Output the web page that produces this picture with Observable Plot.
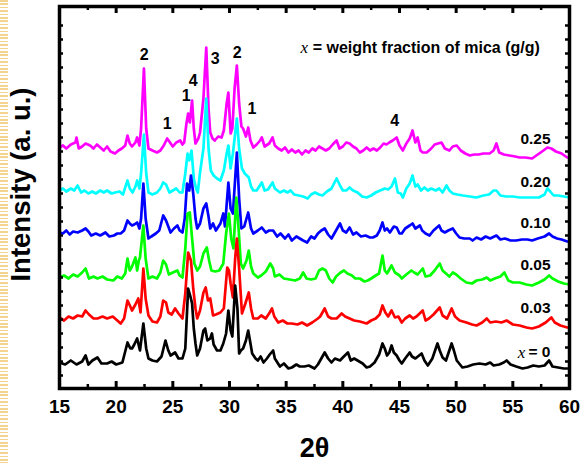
<!DOCTYPE html>
<html>
<head>
<meta charset="utf-8">
<script src="https://cdn.jsdelivr.net/npm/d3@7"></script>
<script src="https://cdn.jsdelivr.net/npm/@observablehq/plot@0.6"></script>
<style>
  html, body { margin: 0; padding: 0; background: #fff; }
  #wrap { position: relative; width: 582px; height: 463px; overflow: hidden; }
  #deco { position: absolute; left: 0; top: 0; width: 8px; height: 463px;
    background: repeating-linear-gradient(to bottom, #f3d48e 0px, #f3d48e 1.6px, transparent 1.6px, transparent 3.4px); }
  #chart { position: absolute; left: 0; top: 0; }
</style>
</head>
<body>
<div id="wrap"><div id="deco"></div><div id="chart"></div></div>
<script>
// ---- data: [2θ, intensity (a.u., vertically offset as in the figure)] ----
const mica000 = [[15.0,26],[15.5,24],[16.0,28],[16.5,24],[17.0,27],[17.3,33],[17.55,24],[17.9,28],[18.35,31],[18.7,25],[19.2,25],[19.6,27],[20.0,24],[20.55,26],[21.0,46],[21.25,40],[21.4,40],[21.6,44],[21.85,50],[22.1,38],[22.4,65],[22.65,40],[22.85,30],[23.2,28],[23.6,27],[24.0,32],[24.35,48],[24.6,38],[24.8,33],[25.2,36],[25.5,30],[25.85,30],[26.1,40],[26.35,100],[26.55,92],[26.7,85],[26.85,60],[27.0,45],[27.15,33],[27.4,40],[27.7,58],[27.85,60],[28.05,48],[28.3,50],[28.45,55],[28.6,44],[28.9,38],[29.2,38],[29.45,45],[29.7,55],[29.9,78],[30.1,58],[30.25,52],[30.5,103],[30.7,80],[30.85,35],[31.0,38],[31.2,40],[31.45,48],[31.65,58],[31.85,45],[32.0,35],[32.3,30],[32.5,28],[32.75,32],[33.0,26],[33.3,30],[33.55,34],[33.85,38],[34.0,30],[34.45,22],[34.8,25],[35.2,20],[35.5,21],[35.9,24],[36.2,22],[36.6,22],[37.0,23],[37.5,20],[37.8,24],[38.0,28],[38.4,36],[38.7,30],[39.0,26],[39.3,30],[39.75,28],[40.0,31],[40.45,36],[40.7,28],[41.0,30],[41.3,28],[41.75,25],[42.1,21],[42.4,22],[42.8,26],[43.2,34],[43.5,45],[43.7,40],[43.9,33],[44.1,36],[44.3,43],[44.5,36],[44.75,33],[45.0,28],[45.2,25],[45.5,30],[45.9,36],[46.1,32],[46.4,30],[46.95,35],[47.2,28],[47.5,23],[47.9,30],[48.35,45],[48.55,38],[48.8,31],[49.1,28],[49.6,45],[49.8,38],[50.05,28],[50.55,21],[51.0,22],[51.5,24],[52.05,25],[52.6,24],[53.0,26],[53.3,23],[53.8,24],[54.2,26],[54.45,28],[54.8,24],[55.3,22],[55.85,20],[56.3,21],[56.8,23],[57.3,22],[57.8,23],[58.2,28],[58.5,22],[59.0,21],[59.5,20],[60.0,20]];
const mica003 = [[15.0,71],[15.4,68],[15.8,72],[16.2,70],[16.6,73],[17.0,72],[17.3,78],[17.6,74],[18.0,70],[18.35,70],[18.8,72],[19.2,70],[19.7,72],[20.1,68],[20.4,65],[20.7,70],[21.0,88],[21.25,82],[21.4,78],[21.7,84],[21.95,90],[22.15,76],[22.4,120],[22.6,90],[22.85,73],[23.2,67],[23.6,66],[23.9,72],[24.15,88],[24.4,86],[24.6,76],[24.9,74],[25.2,80],[25.5,75],[25.85,70],[26.1,95],[26.35,136],[26.6,128],[26.8,100],[27.0,80],[27.15,70],[27.4,78],[27.7,96],[27.9,101],[28.1,88],[28.3,90],[28.55,73],[28.8,74],[29.2,76],[29.5,80],[29.8,121],[29.95,118],[30.1,105],[30.3,91],[30.5,130],[30.65,150],[30.85,120],[31.1,75],[31.4,85],[31.7,96],[31.9,80],[32.1,70],[32.5,70],[32.8,73],[33.2,70],[33.55,76],[33.75,80],[33.95,72],[34.3,66],[34.7,68],[35.1,65],[35.5,65],[36.0,64],[36.4,66],[36.85,63],[37.3,66],[37.8,70],[38.0,72],[38.4,80],[38.7,72],[39.0,70],[39.45,70],[39.9,75],[40.2,72],[40.6,70],[41.0,68],[41.5,67],[42.1,65],[42.5,68],[42.9,70],[43.25,74],[43.5,83],[43.75,76],[44.0,72],[44.3,78],[44.6,71],[44.9,72],[45.2,66],[45.5,70],[45.9,73],[46.2,70],[46.5,72],[47.05,78],[47.3,68],[47.6,70],[48.0,74],[48.55,81],[48.8,73],[49.2,70],[49.6,80],[49.9,72],[50.3,68],[50.9,66],[51.4,64],[51.8,63],[52.3,66],[52.7,70],[53.0,66],[53.5,67],[54.0,66],[54.45,68],[55.0,64],[55.6,63],[56.2,61],[56.7,60],[57.3,62],[57.9,66],[58.4,71],[58.7,66],[59.2,63],[59.8,61],[60.0,61]];
const mica005 = [[15.0,111],[15.4,113],[15.8,110],[16.2,114],[16.6,112],[17.0,116],[17.3,120],[17.6,110],[18.0,112],[18.35,110],[18.8,112],[19.2,109],[19.75,108],[20.1,112],[20.5,110],[20.8,115],[21.0,130],[21.2,118],[21.4,122],[21.7,131],[21.85,118],[22.0,128],[22.1,131],[22.4,163],[22.6,130],[22.85,110],[23.2,112],[23.6,110],[23.9,116],[24.15,128],[24.4,124],[24.65,114],[25.0,116],[25.4,118],[25.6,113],[25.85,111],[26.1,140],[26.3,175],[26.5,176],[26.7,150],[26.9,125],[27.15,118],[27.4,122],[27.7,135],[28.0,141],[28.2,128],[28.4,118],[28.75,117],[29.1,118],[29.45,125],[29.7,155],[29.95,175],[30.15,150],[30.35,140],[30.6,191],[30.8,160],[31.0,125],[31.2,120],[31.5,128],[31.7,138],[31.9,122],[32.1,115],[32.5,111],[32.8,113],[33.2,117],[33.6,125],[33.85,120],[34.0,112],[34.4,114],[34.8,110],[35.3,109],[35.8,108],[36.2,110],[36.5,116],[36.8,110],[37.2,109],[37.6,110],[37.9,118],[38.2,120],[38.5,118],[38.8,110],[39.1,106],[39.4,112],[39.8,116],[40.1,118],[40.4,115],[40.8,113],[41.1,110],[41.5,110],[41.9,107],[42.2,108],[42.5,110],[42.9,113],[43.2,115],[43.5,133],[43.7,118],[43.9,115],[44.3,123],[44.6,116],[45.0,113],[45.2,110],[45.6,114],[46.05,118],[46.3,116],[46.6,114],[47.05,120],[47.3,112],[47.7,113],[48.1,118],[48.55,125],[48.8,118],[49.1,115],[49.4,112],[49.7,116],[50.0,114],[50.4,110],[50.9,106],[51.4,105],[51.8,108],[52.3,109],[52.7,111],[53.0,108],[53.4,110],[53.9,112],[54.25,116],[54.6,108],[55.0,106],[55.6,106],[56.2,104],[56.7,103],[57.3,106],[57.8,109],[58.2,113],[58.5,110],[59.0,107],[59.5,105],[60.0,104]];
const mica010 = [[15.0,156],[15.3,155],[15.6,158],[15.9,154],[16.2,157],[16.6,156],[17.0,158],[17.3,160],[17.55,157],[17.8,153],[18.2,155],[18.6,153],[19.05,156],[19.4,152],[19.8,153],[20.1,155],[20.4,155],[20.7,158],[21.0,168],[21.2,165],[21.4,163],[21.6,164],[21.85,166],[22.05,160],[22.2,170],[22.4,205],[22.6,170],[22.85,150],[23.1,152],[23.5,155],[23.8,158],[24.15,173],[24.4,168],[24.8,156],[25.1,160],[25.4,163],[25.6,158],[25.85,156],[26.05,170],[26.25,205],[26.45,198],[26.6,213],[26.8,195],[27.0,170],[27.15,160],[27.4,165],[27.7,180],[27.95,185],[28.15,172],[28.3,160],[28.55,165],[28.8,158],[29.2,165],[29.45,175],[29.6,162],[29.9,206],[30.1,180],[30.3,175],[30.65,236],[30.85,190],[31.05,160],[31.3,162],[31.65,176],[31.9,160],[32.1,155],[32.5,158],[32.85,161],[33.2,156],[33.5,158],[33.85,158],[34.2,152],[34.5,155],[34.9,150],[35.2,154],[35.5,148],[35.9,152],[36.2,150],[36.5,148],[36.85,146],[37.2,152],[37.5,150],[37.8,155],[38.1,158],[38.4,160],[38.7,154],[39.0,150],[39.3,156],[39.75,165],[40.0,158],[40.3,156],[40.6,161],[40.9,154],[41.2,156],[41.6,152],[42.0,153],[42.4,151],[42.65,151],[43.0,153],[43.25,158],[43.5,166],[43.7,158],[43.9,160],[44.15,156],[44.5,162],[44.75,161],[45.0,155],[45.2,155],[45.5,160],[45.9,163],[46.15,165],[46.4,160],[46.8,163],[47.0,158],[47.3,155],[47.65,153],[48.0,158],[48.5,163],[48.7,158],[49.0,156],[49.3,158],[49.7,160],[50.0,155],[50.3,151],[50.7,150],[51.2,150],[51.45,148],[51.8,151],[52.2,149],[52.6,152],[53.0,150],[53.55,153],[53.9,149],[54.3,150],[54.8,148],[55.3,148],[55.8,149],[56.3,149],[56.7,148],[57.2,150],[57.8,152],[58.2,155],[58.5,152],[58.9,150],[59.3,149],[59.8,147],[60.0,147]];
const mica020 = [[15.0,198],[15.3,200],[15.6,197],[16.0,200],[16.3,198],[16.6,203],[16.9,196],[17.2,198],[17.55,195],[17.9,197],[18.2,195],[18.6,198],[18.9,196],[19.2,198],[19.6,195],[19.9,196],[20.3,197],[20.6,194],[21.0,208],[21.2,200],[21.45,196],[21.7,202],[21.85,208],[22.05,200],[22.2,215],[22.45,254],[22.65,215],[22.85,196],[23.2,194],[23.6,196],[23.9,200],[24.15,206],[24.4,204],[24.7,196],[25.0,198],[25.3,200],[25.6,196],[25.85,196],[26.1,215],[26.3,235],[26.45,228],[26.65,238],[26.85,210],[27.05,200],[27.2,196],[27.4,216],[27.7,240],[27.95,290],[28.15,240],[28.35,218],[28.6,213],[28.9,210],[29.2,208],[29.5,218],[29.75,235],[29.9,243],[30.1,220],[30.3,235],[30.65,270],[30.85,240],[31.1,220],[31.35,215],[31.7,211],[31.9,202],[32.1,198],[32.4,198],[32.85,206],[33.1,198],[33.4,199],[33.8,206],[34.0,200],[34.45,196],[34.8,198],[35.1,196],[35.4,198],[35.7,194],[36.1,193],[36.5,192],[36.9,190],[37.2,194],[37.55,196],[37.9,194],[38.2,193],[38.6,197],[39.0,200],[39.45,210],[39.75,203],[40.0,198],[40.3,198],[40.6,201],[40.9,198],[41.3,196],[41.7,192],[42.1,191],[42.5,193],[42.9,196],[43.3,198],[43.7,200],[44.0,199],[44.3,202],[44.6,210],[44.85,196],[45.1,195],[45.3,191],[45.6,200],[45.9,205],[46.15,213],[46.4,202],[46.6,204],[46.9,198],[47.2,201],[47.5,198],[47.8,200],[48.2,198],[48.5,200],[48.8,196],[49.15,203],[49.4,198],[49.7,195],[50.1,194],[50.6,193],[51.2,192],[51.8,191],[52.4,193],[52.9,194],[53.3,198],[53.55,198],[53.9,193],[54.4,192],[55.0,192],[55.6,191],[56.2,191],[56.7,191],[57.3,191],[57.8,194],[58.05,200],[58.3,197],[58.6,193],[59.0,193],[59.5,192],[60.0,191]];
const mica025 = [[15.0,241],[15.3,243],[15.6,240],[16.0,244],[16.4,246],[16.5,251],[16.7,240],[17.0,242],[17.3,245],[17.7,243],[18.0,240],[18.3,244],[18.6,241],[18.9,238],[19.2,242],[19.5,237],[19.9,235],[20.2,238],[20.5,240],[20.8,243],[21.0,253],[21.2,245],[21.4,242],[21.7,246],[21.85,251],[22.05,243],[22.2,260],[22.45,320],[22.65,260],[22.85,240],[23.2,238],[23.6,236],[23.9,238],[24.2,243],[24.5,250],[24.75,246],[25.0,242],[25.3,246],[25.65,248],[25.85,244],[26.0,246],[26.2,265],[26.35,275],[26.5,266],[26.7,288],[26.85,260],[27.0,245],[27.25,250],[27.4,256],[27.7,290],[27.95,341],[28.15,280],[28.3,256],[28.5,250],[28.7,248],[29.0,252],[29.3,251],[29.5,258],[29.75,285],[29.9,296],[30.1,255],[30.25,260],[30.45,300],[30.65,323],[30.85,285],[31.05,262],[31.2,260],[31.45,252],[31.65,261],[31.85,248],[32.1,241],[32.4,244],[32.7,248],[32.85,251],[33.1,242],[33.5,245],[33.8,251],[34.0,243],[34.3,240],[34.6,238],[34.9,241],[35.2,236],[35.5,239],[35.8,236],[36.1,238],[36.4,234],[36.7,238],[37.0,236],[37.3,240],[37.6,238],[37.9,242],[38.2,240],[38.5,238],[38.8,240],[39.1,244],[39.45,248],[39.7,240],[40.0,242],[40.3,246],[40.6,245],[40.9,242],[41.2,240],[41.5,236],[41.8,238],[42.1,241],[42.4,238],[42.7,240],[43.0,238],[43.3,241],[43.6,245],[43.85,244],[44.1,246],[44.4,248],[44.75,251],[45.0,243],[45.3,238],[45.6,245],[45.9,250],[46.15,258],[46.4,246],[46.6,251],[46.85,238],[47.05,236],[47.4,236],[47.8,240],[48.1,244],[48.7,246],[49.0,240],[49.4,238],[49.7,242],[50.05,243],[50.4,238],[50.8,235],[51.2,233],[51.6,234],[52.0,234],[52.4,235],[52.95,235],[53.3,238],[53.55,245],[53.8,236],[54.2,234],[54.7,233],[55.2,232],[55.6,231],[56.1,231],[56.7,230],[57.2,234],[57.7,238],[58.05,241],[58.4,240],[58.8,237],[59.3,235],[59.8,231],[60.0,231]];

const seriesNames  = ["0.25", "0.20", "0.10", "0.05", "0.03", "x = 0"];
const seriesColors = ["#ff00ff", "#00ffff", "#0000ff", "#00ff00", "#ff0000", "#000000"];
const seriesLabelY = [249, 206, 165, 123, 80, 36];
const seriesLabelTheta = 57.0;

const peakLabels = ["2", "1", "1", "4", "3", "2", "1", "4"];
const peakTheta  = [22.48, 24.5, 26.18, 26.8, 28.73, 30.67, 31.99, 44.58];
const peakLabelY = [334, 265, 293, 308, 330, 336, 280, 268];

const xTicks = [15, 20, 25, 30, 35, 40, 45, 50, 55, 60];
const xMinorTicks = [17.5, 22.5, 27.5, 32.5, 37.5, 42.5, 47.5, 52.5, 57.5];
const yMinorTicks = [13, 27, 41, 55, 69, 83, 97, 111, 125, 139, 153, 167, 181, 195, 209, 223, 237, 251, 265, 279, 293, 307, 321, 335, 349, 363];

const xLabel = "2θ";
const yLabel = "Intensity (a. u.)";
const legendTitle = " = weight fraction of mica (g/g)";

// ---- build ----
const W = 582, H = 463, mL = 59, mR = 13, mT = 6, mB = 75;
const pw = W - mL - mR, ph = H - mT - mB;
const sets = [mica025, mica020, mica010, mica005, mica003, mica000];
const rows = sets.map((s, i) => s.map(([t, v]) => ({theta: t, intensity: v, series: seriesNames[i]})));
const font = "'Liberation Sans', Arial, Helvetica, sans-serif";
const serif = "'Liberation Serif', 'Times New Roman', serif";

const marks = [];
rows.forEach((r, i) => marks.push(Plot.line(r, {x: "theta", y: "intensity", stroke: seriesColors[i], strokeWidth: 2.7, strokeLinejoin: "round"})));
// ticks (inward)
marks.push(Plot.tickX(xTicks, {x: d => d, insetTop: ph - 7, strokeWidth: 3}));
marks.push(Plot.tickX(xTicks, {x: d => d, insetBottom: ph - 7, strokeWidth: 3}));
marks.push(Plot.tickX(xMinorTicks, {x: d => d, insetTop: ph - 4, strokeWidth: 2.5}));
marks.push(Plot.tickX(xMinorTicks, {x: d => d, insetBottom: ph - 4, strokeWidth: 2.5}));
marks.push(Plot.tickY(yMinorTicks, {y: d => d, insetRight: pw - 4, strokeWidth: 2.5}));
marks.push(Plot.tickY(yMinorTicks, {y: d => d, insetLeft: pw - 4, strokeWidth: 2.5}));
marks.push(Plot.frame({stroke: "#000", strokeWidth: 3.5}));
marks.push(Plot.axisX(xTicks, {tickSize: 0, tickPadding: 11, fontSize: 19, fontWeight: "bold", fontFamily: font, label: null, tickFormat: d => String(d)}));
// axis titles
marks.push(Plot.text([xLabel], {text: d => d, frameAnchor: "bottom", dy: 60, fontSize: 27, fontWeight: "bold", fontFamily: font, lineAnchor: "middle"}));
// y title: placed left of the frame (x below the domain start), vertically at the plot's y = 204
marks.push(Plot.text([yLabel], {x: () => 11.6, y: () => 204, text: d => d, rotate: -90, fontSize: 27.5, fontWeight: "bold", fontFamily: font, lineAnchor: "middle"}));
// peak labels
marks.push(Plot.text(peakLabels.map((l, i) => ({l, t: peakTheta[i], v: peakLabelY[i]})), {x: "t", y: "v", text: "l", fontSize: 16, fontWeight: "bold", fontFamily: font}));
// series labels
const sl = seriesNames.map((n, i) => ({n, v: seriesLabelY[i]}));
marks.push(Plot.text(sl.filter(d => d.n !== "x = 0"), {x: () => seriesLabelTheta, y: "v", text: "n", fontSize: 15.5, fontWeight: "bold", fontFamily: font}));
marks.push(Plot.text(sl.filter(d => d.n === "x = 0"), {x: () => seriesLabelTheta, y: "v", text: () => "x", dx: -14, fontSize: 17, fontStyle: "italic", fontFamily: serif}));
marks.push(Plot.text(sl.filter(d => d.n === "x = 0"), {x: () => seriesLabelTheta, y: "v", text: () => "= 0", dx: 4, fontSize: 15.5, fontWeight: "bold", fontFamily: font}));
// legend title
marks.push(Plot.text(["x"], {x: () => 36.6, y: () => 341, text: d => d, fontSize: 17, fontStyle: "italic", fontFamily: serif}));
marks.push(Plot.text([legendTitle], {x: () => 36.95, y: () => 341, text: d => d, textAnchor: "start", fontSize: 16, fontWeight: "bold", fontFamily: font}));

const chart = Plot.plot({
  width: W, height: H,
  marginLeft: mL, marginRight: mR, marginTop: mT, marginBottom: mB,
  style: {background: "transparent", color: "#000", fontFamily: font, overflow: "visible"},
  x: {domain: [15, 60]},
  y: {domain: [0, 382], axis: null},
  marks
});
document.getElementById("chart").appendChild(chart);
</script>
</body>
</html>
